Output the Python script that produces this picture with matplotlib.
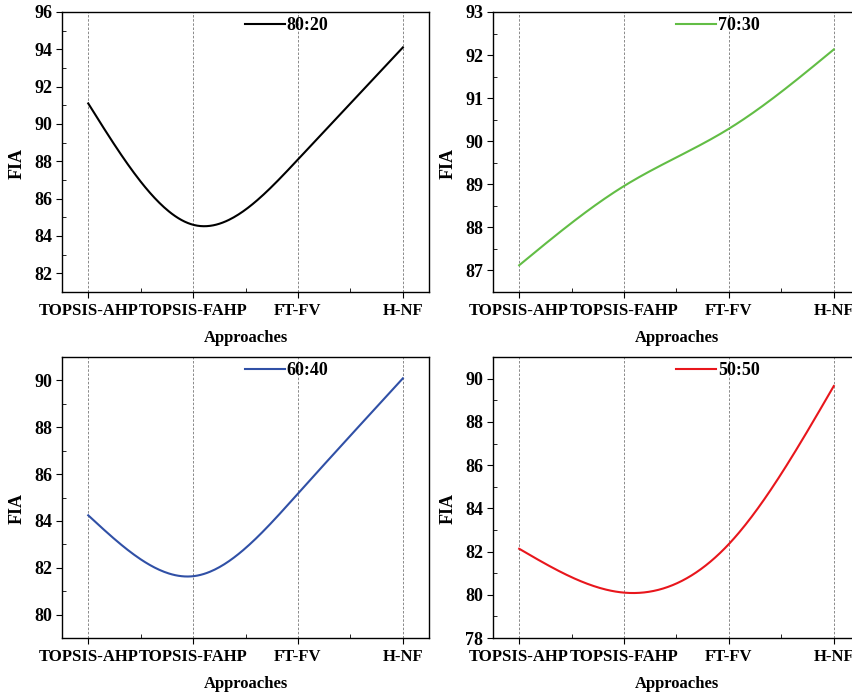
import numpy as np
import matplotlib.pyplot as plt
from matplotlib.ticker import MultipleLocator, AutoMinorLocator

approaches = ['TOPSIS-AHP', 'TOPSIS-FAHP', 'FT-FV', 'H-NF']
fia_80_20 = [91.1, 84.6, 88.1, 94.1]
fia_70_30 = [87.12, 88.96, 90.29, 92.13]
fia_60_40 = [84.24, 81.64, 85.17, 90.09]
fia_50_50 = [82.13, 80.10, 82.35, 89.66]

plt.rcParams['font.family'] = ['Liberation Serif', 'DejaVu Serif']
plt.rcParams['font.weight'] = 'bold'


def natural_spline(y, n=200):
    # natural cubic spline through equally spaced points x = 0..k-1
    y = np.asarray(y, dtype=float)
    k = len(y)
    A = np.zeros((k, k))
    b = np.zeros(k)
    A[0, 0] = A[-1, -1] = 1
    for i in range(1, k - 1):
        A[i, i - 1], A[i, i], A[i, i + 1] = 1, 4, 1
        b[i] = 6 * (y[i + 1] - 2 * y[i] + y[i - 1])
    m = np.linalg.solve(A, b)
    xs = np.linspace(0, k - 1, n)
    ys = np.empty_like(xs)
    for j, x in enumerate(xs):
        i = min(int(x), k - 2)
        t = x - i
        ys[j] = (m[i] * (1 - t) ** 3 / 6 + m[i + 1] * t ** 3 / 6
                 + (y[i] - m[i] / 6) * (1 - t) + (y[i + 1] - m[i + 1] / 6) * t)
    return xs, ys


panels = [
    (fia_80_20, '80:20', 'black', (81, 96), 2, [0.0728, 0.5805, 0.4308, 0.4023]),
    (fia_70_30, '70:30', '#62bd45', (86.5, 93), 1, [0.5786, 0.5805, 0.4308, 0.4023]),
    (fia_60_40, '60:40', '#3050a6', (79, 91), 2, [0.0728, 0.0833, 0.4308, 0.4037]),
    (fia_50_50, '50:50', '#e8161c', (78, 91), 2, [0.5786, 0.0833, 0.4308, 0.4037]),
]

fig = plt.figure(figsize=(8.52, 6.96), dpi=100)
for vals, label, color, ylim, step, rect in panels:
    ax = fig.add_axes(rect)
    xs, ys = natural_spline(vals)
    ax.plot(xs, ys, color=color, lw=1.5, label=label)
    ax.set_xlim(-0.25, 3.25)
    ax.set_ylim(*ylim)
    ax.set_xticks(range(len(approaches)))
    ax.set_xticklabels(approaches, fontsize=12)
    ax.xaxis.set_minor_locator(MultipleLocator(0.5))
    ax.yaxis.set_major_locator(MultipleLocator(step))
    ax.yaxis.set_minor_locator(AutoMinorLocator(2))
    ax.grid(axis='x', which='major', color='#777777', ls=(0, (3, 2)), lw=0.6)
    ax.tick_params(which='both', top=False, right=False)
    ax.tick_params(which='major', direction='out', length=4, width=0.8, pad=4)
    ax.tick_params(which='minor', direction='in', length=3, width=0.6)
    ax.tick_params(axis='y', labelsize=13, pad=3)
    for s in ax.spines.values():
        s.set_linewidth(1.0)
    ax.set_xlabel('Approaches', fontsize=12, fontweight='bold', labelpad=8)
    ax.set_ylabel('FIA', fontsize=13, fontweight='bold')
    ax.yaxis.set_label_coords(-0.10, 0.46)
    ax.legend(loc='upper left', bbox_to_anchor=(0.455, 1.04), frameon=False,
              handlelength=2.2, handletextpad=0.1,
              prop={'weight': 'bold', 'size': 13})

fig.savefig('out.png', dpi=100)
